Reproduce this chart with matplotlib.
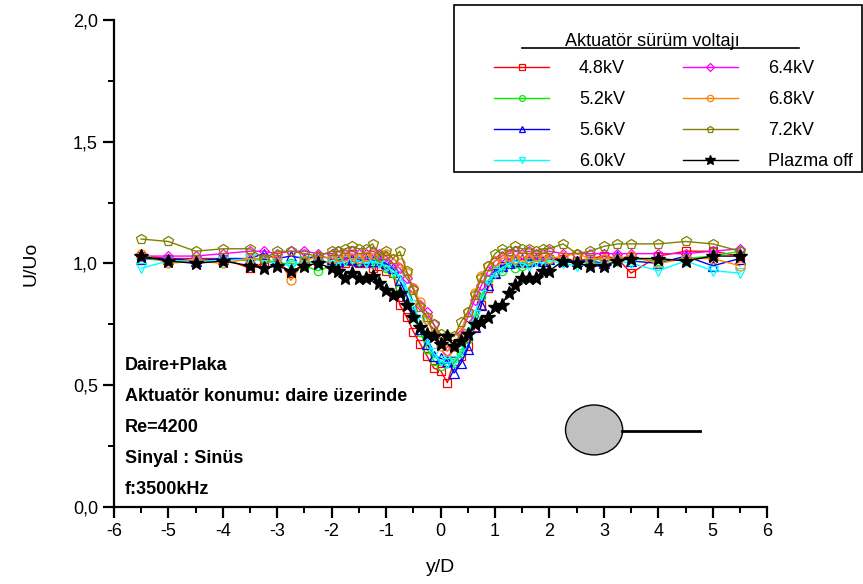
import numpy as np
import matplotlib
matplotlib.use('Agg')
import matplotlib.pyplot as plt
from matplotlib.patches import Ellipse, Rectangle
from matplotlib.lines import Line2D
from matplotlib.ticker import MultipleLocator, FuncFormatter

plt.rcParams['font.family'] = ['Liberation Sans', 'DejaVu Sans']
plt.rcParams['axes.unicode_minus'] = False

# olcum noktalari (y/D)
yD = [-5.5, -5, -4.5, -4, -3.5, -3.25, -3, -2.75, -2.5, -2.25,
      -2, -1.875, -1.75, -1.625, -1.5, -1.375, -1.25, -1.125, -1, -0.875, -0.75,
      -0.625, -0.5, -0.375, -0.25, -0.125, 0, 0.125, 0.25, 0.375, 0.5, 0.625,
      0.75, 0.875, 1, 1.125, 1.25, 1.375, 1.5, 1.625, 1.75, 1.875, 2,
      2.25, 2.5, 2.75, 3, 3.25, 3.5, 4, 4.5, 5, 5.5]

u_48 = [1.03, 1.02, 1.02, 1.02, 0.98, 1.00, 1.01, 0.96, 1.00, 1.01,
        1.00, 0.98, 1.00, 1.01, 1.00, 1.00, 0.98, 0.99, 0.97, 0.96, 0.83,
        0.78, 0.72, 0.67, 0.62, 0.57, 0.56, 0.51, 0.60, 0.62, 0.66, 0.74,
        0.83, 0.90, 0.96, 0.99, 1.00, 1.01, 1.00, 1.01, 1.02, 1.01, 1.02,
        1.02, 1.01, 1.02, 1.03, 1.02, 0.96, 1.03, 1.05, 1.05, 1.03]
u_52 = [1.02, 1.01, 1.01, 1.02, 1.01, 1.02, 1.00, 1.00, 0.99, 0.97,
        0.99, 1.00, 1.01, 1.02, 1.01, 1.01, 1.00, 1.01, 0.98, 0.96, 0.90,
        0.86, 0.78, 0.72, 0.65, 0.60, 0.58, 0.59, 0.59, 0.63, 0.69, 0.77,
        0.86, 0.93, 0.97, 0.97, 1.00, 0.98, 0.99, 1.00, 1.01, 1.01, 1.02,
        1.01, 1.00, 1.01, 1.02, 1.02, 1.02, 1.01, 1.02, 1.03, 1.05]
u_56 = [1.02, 1.02, 1.01, 1.02, 1.02, 1.04, 1.02, 1.03, 1.02, 1.03,
        1.02, 1.01, 1.02, 1.02, 1.01, 1.02, 1.01, 1.02, 1.00, 0.98, 0.93,
        0.87, 0.80, 0.73, 0.67, 0.62, 0.61, 0.60, 0.55, 0.59, 0.65, 0.74,
        0.83, 0.91, 0.96, 0.99, 1.00, 1.01, 1.02, 1.01, 1.02, 1.01, 1.02,
        1.01, 1.01, 1.01, 1.00, 1.03, 1.01, 1.00, 1.03, 0.99, 1.02]
u_60 = [0.98, 1.01, 1.01, 1.01, 1.02, 1.01, 1.00, 0.99, 1.01, 1.00,
        1.01, 1.00, 1.01, 1.02, 1.01, 1.00, 1.01, 1.00, 0.99, 0.97, 0.95,
        0.90, 0.83, 0.76, 0.69, 0.63, 0.60, 0.59, 0.60, 0.64, 0.71, 0.79,
        0.87, 0.93, 0.96, 0.98, 1.00, 1.01, 1.00, 0.99, 1.01, 1.00, 1.01,
        1.00, 0.99, 1.00, 1.00, 1.01, 1.00, 0.97, 1.01, 0.97, 0.96]
u_64 = [1.03, 1.03, 1.03, 1.04, 1.05, 1.05, 1.04, 1.05, 1.05, 1.04,
        1.04, 1.05, 1.04, 1.05, 1.04, 1.04, 1.05, 1.04, 1.03, 1.00, 0.98,
        0.94, 0.90, 0.83, 0.80, 0.75, 0.69, 0.64, 0.66, 0.71, 0.78, 0.85,
        0.91, 0.97, 1.01, 1.03, 1.04, 1.05, 1.04, 1.05, 1.04, 1.04, 1.05,
        1.04, 1.04, 1.04, 1.04, 1.04, 1.04, 1.04, 1.04, 1.05, 1.06]
u_68 = [1.04, 1.00, 1.01, 1.00, 1.02, 1.02, 1.03, 0.93, 1.01, 1.03,
        1.02, 1.03, 1.03, 1.04, 1.02, 1.03, 1.04, 1.03, 1.04, 1.02, 1.00,
        0.96, 0.90, 0.84, 0.77, 0.71, 0.66, 0.64, 0.66, 0.72, 0.80, 0.88,
        0.95, 0.99, 1.01, 1.02, 1.03, 1.02, 1.03, 1.02, 1.03, 1.03, 1.02,
        1.03, 1.04, 1.02, 1.02, 1.02, 1.03, 1.00, 1.02, 1.02, 0.99]
u_72 = [1.10, 1.09, 1.05, 1.06, 1.06, 1.02, 1.05, 1.05, 1.04, 1.03,
        1.05, 1.05, 1.06, 1.07, 1.06, 1.06, 1.08, 1.03, 1.05, 1.02, 1.05,
        0.97, 0.89, 0.82, 0.78, 0.75, 0.71, 0.70, 0.70, 0.76, 0.80, 0.87,
        0.94, 0.99, 1.04, 1.06, 1.05, 1.07, 1.06, 1.06, 1.05, 1.06, 1.06,
        1.08, 1.04, 1.05, 1.07, 1.08, 1.08, 1.08, 1.09, 1.08, 1.05]
u_off = [1.03, 1.01, 1.00, 1.01, 0.99, 0.98, 0.99, 0.97, 0.99, 1.00,
         0.98, 0.97, 0.94, 0.96, 0.94, 0.94, 0.95, 0.92, 0.89, 0.87, 0.88,
         0.83, 0.78, 0.74, 0.71, 0.70, 0.67, 0.70, 0.66, 0.68, 0.71, 0.75,
         0.76, 0.78, 0.82, 0.83, 0.88, 0.91, 0.94, 0.94, 0.94, 0.97, 0.97,
         1.01, 1.00, 0.99, 0.99, 1.01, 1.02, 1.02, 1.01, 1.03, 1.03]

etiketler = ['4.8kV', '5.2kV', '5.6kV', '6.0kV', '6.4kV', '6.8kV', '7.2kV', 'Plazma off']
seriler = [u_48, u_52, u_56, u_60, u_64, u_68, u_72, u_off]
renkler = ['#ff0000', '#00ee00', '#0000ff', '#00ffff', '#ff00ff', '#ff8000', '#808000', '#000000']
isaretler = ['s', 'o', '^', 'v', 'D', 'o', 'p', '*']
boyut = [5.5, 6, 6.5, 6.5, 5.5, 6.5, 7, 10]

W, H = 863, 584
fig = plt.figure(figsize=(8.63, 5.84), dpi=100)
ax = fig.add_axes([0.132, 0.132, 0.757, 0.834])

cizgiler = []
for i in range(len(seriler)):
    if isaretler[i] == '*':
        l, = ax.plot(yD, seriler[i], color=renkler[i], marker='*', ms=boyut[i],
                     lw=1, mfc='k', mec='k', zorder=10)
    else:
        l, = ax.plot(yD, seriler[i], color=renkler[i], marker=isaretler[i],
                     ms=boyut[i], lw=1, mfc='none', mec=renkler[i], mew=0.9)
    cizgiler.append(l)

ax.set_xlim(-6, 6)
ax.set_ylim(0, 2.0)
ax.spines['top'].set_visible(False)
ax.spines['right'].set_visible(False)
ax.spines['left'].set_linewidth(1.6)
ax.spines['bottom'].set_linewidth(1.6)
ax.xaxis.set_major_locator(MultipleLocator(1))
ax.xaxis.set_minor_locator(MultipleLocator(0.5))
ax.yaxis.set_major_locator(MultipleLocator(0.5))
ax.yaxis.set_minor_locator(MultipleLocator(0.25))
ax.yaxis.set_major_formatter(FuncFormatter(lambda v, p: ('%.1f' % v).replace('.', ',')))
ax.tick_params(which='major', direction='out', length=8, width=1.6, labelsize=13)
ax.tick_params(which='minor', direction='out', length=4, width=1.4)
ax.set_xlabel('y/D', fontsize=14, labelpad=14)
ax.set_ylabel('U/Uo', fontsize=14, labelpad=24)

bilgi = ['Daire+Plaka', 'Aktuatör konumu: daire üzerinde', 'Re=4200',
         'Sinyal : Sinüs', 'f:3500kHz']
for k in range(len(bilgi)):
    ax.text(0.017, 0.29 - k * 0.0637, bilgi[k], transform=ax.transAxes,
            fontsize=13, fontweight='bold', va='center')

# daire + plaka sekli
ax.add_patch(Ellipse((2.82, 0.316), 1.05, 0.205, fc='#c0c0c0', ec='k', lw=1))
ax.plot([3.34, 4.77], [0.313, 0.313], color='k', lw=2)

# lejant kutusu ve basligi
fig.add_artist(Rectangle((454 / W, 1 - 172 / H), 408 / W, 167 / H,
                         transform=fig.transFigure, fc='white', ec='k', lw=1.2, zorder=5))
fig.text(652 / W, 1 - 41 / H, 'Aktuatör sürüm voltajı', fontsize=13,
         ha='center', va='center', zorder=6)
fig.add_artist(Line2D([522 / W, 799 / W], [1 - 48 / H, 1 - 48 / H],
                      color='k', lw=1.2, transform=fig.transFigure, zorder=6))

leg = fig.legend(cizgiler, etiketler, ncol=2, loc='upper left',
                 bbox_to_anchor=(494 / W, 1 - 60 / H), fontsize=13, markerscale=0.7,
                 frameon=False, handlelength=3.05, handletextpad=1.65,
                 columnspacing=3.2, labelspacing=0.78, borderpad=0, borderaxespad=0)
leg.set_zorder(7)

fig.savefig('out.png', dpi=100)
